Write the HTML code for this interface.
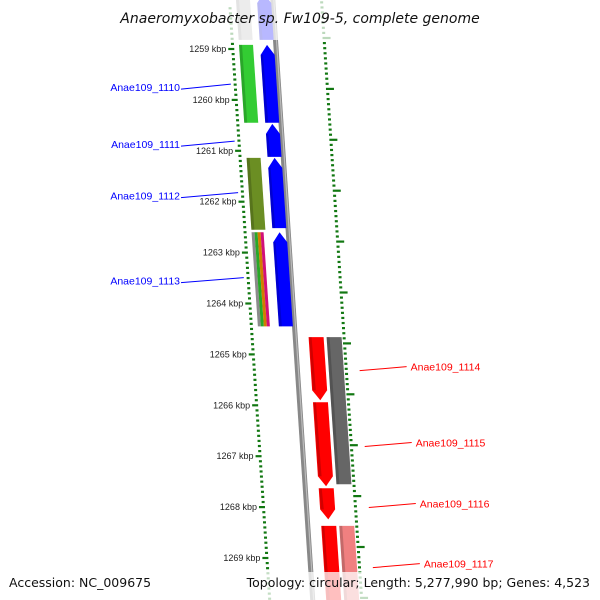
<!DOCTYPE html>
<html><head><meta charset="utf-8"><style>
html,body{margin:0;padding:0;background:#fff}
svg{display:block;font-family:"Liberation Sans","DejaVu Sans",sans-serif}
</style></head><body>
<svg id="map" width="600" height="600" viewBox="0 0 600 600" xmlns="http://www.w3.org/2000/svg">
<g id="ticks"></g>
<g id="genes"></g>
<g id="labels"></g>
<rect x="0" y="0" width="600" height="40" fill="#fff" opacity="0.72"/>
<text x="300" y="23" font-size="14" font-style="italic" text-anchor="middle" fill="#111" font-family="DejaVu Sans, sans-serif">Anaeromyxobacter sp. Fw109-5, complete genome</text>
<rect x="0" y="572" width="600" height="28" fill="#fff" opacity="0.75"/>
<text x="9" y="587" font-size="12.5" fill="#111" font-family="DejaVu Sans, sans-serif">Accession: NC_009675</text>
<text x="590" y="587" font-size="12.5" fill="#111" text-anchor="end" font-family="DejaVu Sans, sans-serif">Topology: circular; Length: 5,277,990 bp; Genes: 4,523</text>
</svg>
<script>
const tickKbp=[1259,1260,1261,1262,1263,1264,1265,1266,1267,1268,1269];
const revStarts=[1257.9,1258.92,1260.47,1261.14,1262.6];
const revEnds=[1258.82,1260.45,1261.12,1262.52,1264.45];
const revTrack2Starts=[1257.9,1258.92,1261.14,1262.6];
const revTrack2Ends=[1258.82,1260.45,1262.55,1264.45];
const revTrack2Colors=["#bbbbbb","#33cc33","#6b8e23","multi"];
const fwdStarts=[1264.66,1265.94,1267.63,1268.37];
const fwdEnds=[1265.9,1267.59,1268.24,1270.2];
const fwdTrack2Starts=[1264.66,1268.37];
const fwdTrack2Ends=[1267.55,1270.2];
const fwdTrack2Colors=["#666666","#f08080"];
const leftLabels=["Anae109_1110","Anae109_1111","Anae109_1112","Anae109_1113"];
const leftLabelKbp=[1259.75,1260.87,1261.88,1263.55];
const rightLabels=["Anae109_1114","Anae109_1115","Anae109_1116","Anae109_1117"];
const rightLabelKbp=[1265.26,1266.75,1267.95,1269.13];

const NS="http://www.w3.org/2000/svg";
const Y=k=>49+(k-1259)*50.9;
const S=y=>0.067*y;          // slant offset
const BB=272;                // backbone x at y=0
function mk(tag,attrs,parent){const e=document.createElementNS(NS,tag);for(const a in attrs)e.setAttribute(a,attrs[a]);parent.appendChild(e);return e;}
const gT=document.getElementById('ticks'),gG=document.getElementById('genes'),gL=document.getElementById('labels');

// backbone
const bb=mk('polygon',{points:`${BB-2},-5 ${BB+3},-5 ${BB+3+S(605)},605 ${BB-2+S(605)},605`,fill:'#888'},gG);


mk('line',{x1:BB+1.5,y1:-5,x2:BB+1.5+S(605),y2:605,stroke:'#bbb','stroke-width':1.2},gG);

// minor dots + ticks
for(let k=1258.2;k<=1270.2;k+=0.1){
  const y=Y(k);const r=Math.round((k-1259)*10);const major=(r%10===0);
  const xl=229+S(y);
  const d=mk('line',{x1:major?xl-4:xl-1,y1:y,x2:xl+2,y2:y,stroke:'#117711','stroke-width':2.2},gT);
  
  
  const yr=y-11,xr=321+S(yr);
  const d2=mk('line',{x1:major?xr-1:xr-1,y1:yr,x2:major?xr+7:xr+2,y2:yr,stroke:'#117711','stroke-width':2.2},gT);
  
  
}
tickKbp.forEach(k=>{const y=Y(k);const t=mk('text',{x:223+S(y),y:y+3,'font-size':9,'text-anchor':'end',fill:'#222'},gT);t.textContent=k+' kbp';

});

function gene(y0,y1,o0,o1,fill,dir,name){
  // dir: -1 arrow up, 1 arrow down, 0 none
  const a=dir?10:0;const mid=(o0+o1)/2;let pts;
  if(dir<0){pts=[[mid,y0],[o1,y0+a],[o1,y1],[o0,y1],[o0,y0+a]];}
  else if(dir>0){pts=[[o0,y0],[o1,y0],[o1,y1-a],[mid,y1],[o0,y1-a]];}
  else pts=[[o0,y0],[o1,y0],[o1,y1],[o0,y1]];
  const p=mk('polygon',{points:pts.map(q=>`${BB+q[0]+S(q[1])},${q[1]}`).join(' '),fill:fill},gG);
  
  
  const sh=mk('polygon',{points:`${BB+o0+S(y0+a)},${y0+(dir<0?a:0)} ${BB+o0+3+S(y0)},${y0+(dir<0?a:0)} ${BB+o0+3+S(y1)},${y1-(dir>0?a:0)} ${BB+o0+S(y1)},${y1-(dir>0?a:0)}`,fill:'#000',opacity:0.18},gG);
  return p;
}
revStarts.forEach((s,i)=>gene(Y(s),Y(revEnds[i]),-15,-1,'#0000ff',-1,'reverse-gene'));
revTrack2Starts.forEach((s,i)=>{const c=revTrack2Colors[i];
  if(c==='multi'){const cols=['#aaaaaa','#33cc33','#ff9900','#ff1493'];const w=12/4;
    cols.forEach((cc,j)=>gene(Y(s),Y(revTrack2Ends[i]),-36+j*w,-36+(j+1)*w,cc,0,'reverse-feature'));}
  else gene(Y(s),Y(revTrack2Ends[i]),-36,-22,c,0,'reverse-feature');});
fwdStarts.forEach((s,i)=>gene(Y(s),Y(fwdEnds[i]),14,29,'#ff0000',1,'forward-gene'));
fwdTrack2Starts.forEach((s,i)=>gene(Y(s),Y(fwdTrack2Ends[i]),32,47,fwdTrack2Colors[i],0,'forward-feature'));

leftLabels.forEach((t,i)=>{const y=Y(leftLabelKbp[i]);const xe=235+S(y)-10;
  const l=mk('line',{x1:181,y1:y+2,x2:xe,y2:y-3,stroke:'#0000ff','stroke-width':1},gL);
  
  
  const tx=mk('text',{x:180,y:y+4,'font-size':10.5,'text-anchor':'end',fill:'#0000ff'},gL);tx.textContent=t;
  
  });
rightLabels.forEach((t,i)=>{const y=Y(rightLabelKbp[i]);const xs=335+S(y);
  const l=mk('line',{x1:xs,y1:y+3,x2:xs+47,y2:y-1,stroke:'#ff0000','stroke-width':1},gL);
  
  
  const tx=mk('text',{x:xs+51,y:y+3,'font-size':10.5,fill:'#ff0000'},gL);tx.textContent=t;
  
  });
</script>
</body></html>
